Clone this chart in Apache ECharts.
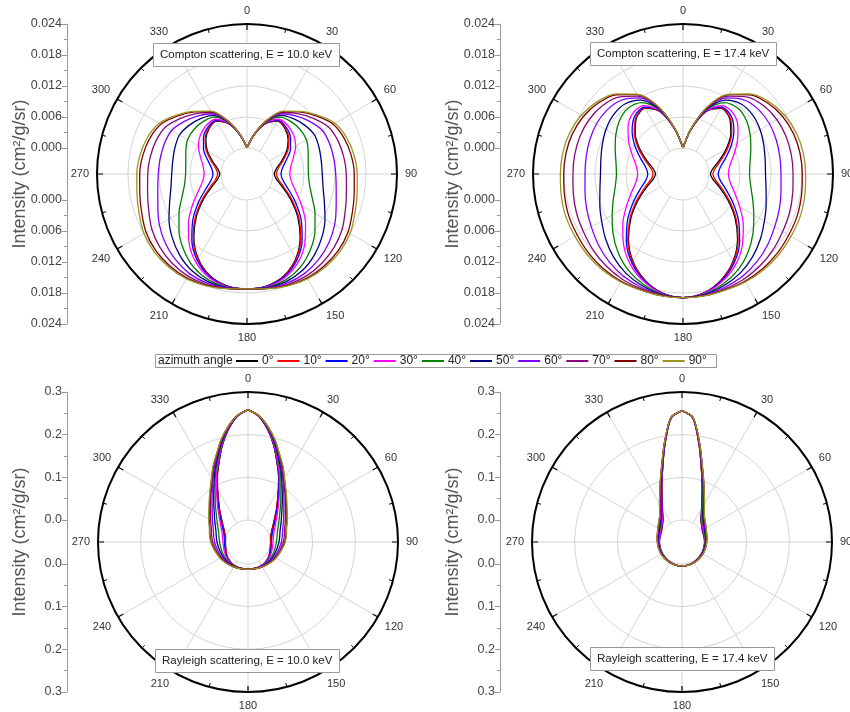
<!DOCTYPE html>
<html lang="en">
<head>
<meta charset="UTF-8">
<script src="https://cdn.jsdelivr.net/npm/echarts@6/dist/echarts.min.js"></script>
<title>Compton / Rayleigh angular distribution</title>
<style>html,body{margin:0;padding:0;background:#fff}</style>
</head>
<body>
<div id="main" style="width:850px;height:712px"></div>
<script>
// scattering angles of the stored values; the other half (180..360) is the mirror image
var thetaC = [0, 10, 20, 30, 40, 50, 60, 70, 80, 90, 100, 110, 120, 130, 140, 150, 160, 170, 180];
var thetaR = [0, 5, 10, 15, 20, 25, 30, 40, 50, 60, 70, 80, 90, 100, 110, 120, 130, 140, 150, 160, 170, 180];
var azimuths = ['0°', '10°', '20°', '30°', '40°', '50°', '60°', '70°', '80°', '90°'];
var colors = ['#000000', '#ff0000', '#0000ff', '#ff00ff', '#008000', '#000080', '#8000ff', '#8a0a7a', '#800000', '#9a9420'];

// intensity (cm2/g/sr), one row per azimuth angle 0..90
var compton10 = [
    [0, .00262, .00531, .00678, .00640, .00536, .00381, .00202, .00072, .00024, .00074, .00224, .00470, .00777, .01097, .01387, .01593, .01698, .0172],
    [0, .00262, .00533, .00684, .00652, .00555, .00409, .00236, .00110, .00065, .00115, .00262, .00504, .00804, .01116, .01398, .01598, .01699, .0172],
    [0, .00263, .00537, .00696, .00676, .00596, .00469, .00311, .00196, .00155, .00203, .00346, .00578, .00863, .01158, .01424, .01609, .01702, .0172],
    [0, .00263, .00544, .00720, .00723, .00674, .00584, .00455, .00359, .00326, .00373, .00505, .00720, .00976, .01239, .01472, .01632, .01708, .0172],
    [0, .00265, .00559, .00770, .00821, .00838, .00825, .00756, .00700, .00685, .00726, .00839, .01017, .01214, .01407, .01573, .01678, .01719, .0172],
    [0, .00267, .00571, .00807, .00895, .00961, .01006, .00982, .00956, .00954, .00992, .01090, .01240, .01392, .01533, .01649, .01713, .01728, .0172],
    [0, .00268, .00582, .00843, .00966, .01080, .01181, .01201, .01204, .01214, .01250, .01333, .01456, .01565, .01655, .01723, .01746, .01737, .0172],
    [0, .00269, .00591, .00871, .01022, .01173, .01318, .01372, .01398, .01418, .01451, .01523, .01625, .01700, .01751, .01780, .01773, .01743, .0172],
    [0, .00270, .00598, .00892, .01064, .01244, .01422, .01502, .01546, .01573, .01604, .01667, .01753, .01802, .01823, .01824, .01793, .01748, .0172],
    [0, .00270, .00600, .00900, .01080, .01270, .01460, .01550, .01600, .01630, .01660, .01720, .01800, .01840, .01850, .01840, .01800, .01750, .0172]
];
var compton17 = [
    [0, .00369, .00779, .00965, .00901, .00705, .00462, .00238, .00083, .00028, .00085, .00249, .00499, .00810, .01139, .01440, .01672, .01834, .0189],
    [0, .00369, .00781, .00973, .00917, .00729, .00496, .00279, .00128, .00075, .00130, .00291, .00535, .00838, .01158, .01452, .01678, .01835, .0189],
    [0, .00370, .00787, .00990, .00952, .00783, .00569, .00368, .00228, .00178, .00231, .00384, .00614, .00900, .01202, .01478, .01690, .01838, .0189],
    [0, .00371, .00798, .01024, .01018, .00886, .00708, .00537, .00417, .00374, .00424, .00561, .00764, .01019, .01285, .01528, .01713, .01844, .0189],
    [0, .00373, .00820, .01094, .01156, .01102, .01000, .00893, .00814, .00785, .00827, .00932, .01079, .01267, .01460, .01633, .01762, .01857, .0189],
    [0, .00375, .00837, .01147, .01259, .01263, .01219, .01159, .01111, .01094, .01129, .01210, .01316, .01452, .01591, .01712, .01798, .01866, .0189],
    [0, .00377, .00854, .01198, .01360, .01420, .01432, .01418, .01400, .01393, .01423, .01480, .01545, .01633, .01718, .01788, .01834, .01875, .0189],
    [0, .00379, .00867, .01238, .01438, .01543, .01597, .01620, .01626, .01627, .01652, .01691, .01724, .01774, .01817, .01848, .01861, .01883, .0189],
    [0, .00380, .00876, .01269, .01498, .01636, .01724, .01773, .01797, .01805, .01826, .01851, .01860, .01881, .01892, .01893, .01882, .01888, .0189],
    [0, .00380, .00880, .01280, .01520, .01670, .01770, .01830, .01860, .01870, .01890, .01910, .01910, .01920, .01920, .01910, .01890, .01890, .0189]
];
var rayleigh10 = [
    [.258, .2437, .2154, .1821, .1469, .1178, .0905, .0528, .0287, .0144, .0059, .0018, .0005, .0014, .0035, .0063, .0089, .0107, .0121, .0124, .0121, .012],
    [.258, .2437, .2156, .1825, .1474, .1185, .0912, .0537, .0297, .0154, .0069, .0028, .0014, .0021, .0041, .0067, .0092, .0109, .0122, .0124, .0121, .012],
    [.258, .2438, .2159, .1832, .1484, .1199, .0929, .0557, .0319, .0177, .0090, .0049, .0034, .0038, .0054, .0077, .0098, .0113, .0124, .0125, .0122, .012],
    [.258, .2440, .2166, .1845, .1505, .1226, .0960, .0596, .0361, .0220, .0132, .0090, .0072, .0069, .0079, .0096, .0111, .0121, .0128, .0127, .0122, .012],
    [.258, .2444, .2181, .1874, .1547, .1282, .1026, .0677, .0449, .0311, .0220, .0175, .0151, .0136, .0132, .0136, .0139, .0137, .0137, .0131, .0123, .012],
    [.258, .2447, .2192, .1896, .1579, .1324, .1076, .0737, .0514, .0379, .0285, .0239, .0211, .0185, .0171, .0165, .0159, .0149, .0143, .0133, .0123, .012],
    [.258, .2450, .2203, .1917, .1610, .1365, .1124, .0796, .0578, .0445, .0349, .0301, .0268, .0233, .0209, .0194, .0179, .0161, .0150, .0136, .0124, .012],
    [.258, .2453, .2211, .1933, .1635, .1397, .1161, .0842, .0628, .0496, .0398, .0350, .0313, .0271, .0239, .0217, .0194, .0170, .0155, .0138, .0125, .012],
    [.258, .2454, .2218, .1946, .1653, .1421, .1190, .0877, .0666, .0536, .0436, .0386, .0347, .0299, .0262, .0234, .0206, .0177, .0159, .0139, .0125, .012],
    [.258, .2455, .2220, .1950, .1660, .1430, .1200, .0890, .0680, .0550, .0450, .0400, .0360, .0310, .0270, .0240, .0210, .0180, .0160, .0140, .0125, .012]
];
var rayleigh17 = [
    [.256, .2402, .1795, .1242, .0867, .0593, .0407, .0178, .0084, .0037, .0013, .0004, .0001, .0003, .0007, .0013, .0020, .0028, .0035, .0041, .0045, .0046],
    [.256, .2402, .1796, .1245, .0870, .0597, .0410, .0181, .0087, .0039, .0015, .0006, .0003, .0004, .0008, .0014, .0021, .0028, .0035, .0041, .0045, .0046],
    [.256, .2403, .1799, .1249, .0876, .0604, .0418, .0188, .0094, .0045, .0020, .0010, .0006, .0007, .0011, .0016, .0023, .0029, .0036, .0041, .0045, .0046],
    [.256, .2405, .1805, .1259, .0888, .0617, .0432, .0201, .0106, .0056, .0029, .0018, .0013, .0013, .0016, .0020, .0025, .0032, .0037, .0042, .0045, .0046],
    [.256, .2409, .1818, .1278, .0913, .0645, .0462, .0228, .0132, .0079, .0049, .0035, .0027, .0025, .0026, .0028, .0032, .0036, .0039, .0043, .0046, .0046],
    [.256, .2412, .1827, .1293, .0932, .0667, .0484, .0249, .0151, .0096, .0063, .0048, .0038, .0035, .0034, .0034, .0036, .0039, .0041, .0044, .0046, .0046],
    [.256, .2415, .1836, .1307, .0951, .0687, .0506, .0268, .0170, .0113, .0077, .0060, .0048, .0044, .0041, .0040, .0041, .0042, .0043, .0045, .0046, .0046],
    [.256, .2418, .1843, .1318, .0965, .0703, .0522, .0284, .0185, .0126, .0089, .0070, .0057, .0051, .0047, .0045, .0044, .0044, .0045, .0045, .0046, .0046],
    [.256, .2419, .1848, .1327, .0976, .0715, .0535, .0296, .0196, .0136, .0097, .0077, .0063, .0056, .0051, .0049, .0047, .0046, .0046, .0046, .0046, .0046],
    [.256, .2420, .1850, .1330, .0980, .0720, .0540, .0300, .0200, .0140, .0100, .0080, .0065, .0058, .0053, .0050, .0048, .0047, .0046, .0046, .0046, .0046]
];

var plots = [
    {data: compton10, theta: thetaC, cx: 247, cy: 174, axisX: 67, r0: 26, max: 0.024, step: 0.006, digits: 3,
     label: 'Compton scattering, E = 10.0 keV', boxX: 153, boxY: 43},
    {data: compton17, theta: thetaC, cx: 683, cy: 174, axisX: 500, r0: 26, max: 0.024, step: 0.006, digits: 3,
     label: 'Compton scattering, E = 17.4 keV', boxX: 590, boxY: 42},
    {data: rayleigh10, theta: thetaR, cx: 248, cy: 542, axisX: 67, r0: 22, max: 0.3, step: 0.1, digits: 1,
     label: 'Rayleigh scattering, E = 10.0 keV', boxX: 155, boxY: 649},
    {data: rayleigh17, theta: thetaR, cx: 682, cy: 542, axisX: 500, r0: 22, max: 0.3, step: 0.1, digits: 1,
     label: 'Rayleigh scattering, E = 17.4 keV', boxX: 590, boxY: 647}
];
var R = 150;
var font = 'Liberation Sans, Arial, sans-serif';

function loop(half, th) {
    var pts = [];
    for (var i = 0; i < half.length; i++) pts.push([half[i], th[i]]);
    for (var j = half.length - 2; j >= 0; j--) pts.push([half[j], 360 - th[j]]);
    return pts;
}

var polar = [], angleAxis = [], radiusAxis = [], grid = [], xAxis = [], yAxis = [], series = [], title = [];
var n = plots.length;

plots.forEach(function (p, i) {
    // data polar: ring between the inner hole and the frame, grey grid only
    polar.push({center: [p.cx, p.cy], radius: [p.r0, R]});
    angleAxis.push({
        polarIndex: i, type: 'value', min: 0, max: 360, interval: 30,
        startAngle: 90, clockwise: true,
        axisLine: {show: false}, axisTick: {show: false}, axisLabel: {show: false},
        splitLine: {lineStyle: {color: '#d4d4d4', width: 1}}
    });
    radiusAxis.push({
        polarIndex: i, type: 'value', min: 0, max: p.max, interval: p.step,
        axisLine: {show: false}, axisTick: {show: false}, axisLabel: {show: false},
        splitLine: {show: true, lineStyle: {color: '#d4d4d4', width: 1}}
    });
});

plots.forEach(function (p, i) {
    // frame polar: black outer circle with angle ticks and labels
    polar.push({center: [p.cx, p.cy], radius: R});
    angleAxis.push({
        polarIndex: n + i, type: 'value', min: 0, max: 360, interval: 30,
        startAngle: 90, clockwise: true, z: 5,
        axisLine: {lineStyle: {color: '#000', width: 2}},
        axisTick: {inside: true, length: 6, lineStyle: {color: '#000', width: 1.2}},
        minorTick: {show: true, splitNumber: 2, length: 4, lineStyle: {color: '#000'}},
        axisLabel: {fontSize: 11, color: '#333', fontFamily: font, margin: 8,
            formatter: function (v) { return v === 360 ? '' : String(v); }},
        splitLine: {show: false}
    });
    radiusAxis.push({
        polarIndex: n + i, type: 'value', min: 0, max: 1,
        axisLine: {show: false}, axisTick: {show: false}, axisLabel: {show: false},
        splitLine: {show: false}
    });
});

plots.forEach(function (p, i) {
    // separate straight intensity scale on the left: upper half, gap, lower half
    var parts = [
        {top: p.cy - R, h: R - p.r0, inverse: false, ticks: true},
        {top: p.cy - p.r0, h: 2 * p.r0, inverse: false, ticks: false},
        {top: p.cy + p.r0, h: R - p.r0, inverse: true, ticks: true}
    ];
    parts.forEach(function (s) {
        var gi = grid.length;
        grid.push({left: p.axisX, top: s.top, width: 10, height: s.h});
        xAxis.push({gridIndex: gi, type: 'value', show: false});
        var ax = {
            gridIndex: gi, type: 'value', inverse: s.inverse,
            axisLine: {show: true, lineStyle: {color: '#999', width: 1}},
            splitLine: {show: false}
        };
        if (s.ticks) {
            ax.min = 0; ax.max = p.max; ax.interval = p.step;
            ax.axisTick = {show: true, length: 5, lineStyle: {color: '#999'}};
            ax.minorTick = {show: true, splitNumber: 2, length: 3, lineStyle: {color: '#999'}};
            ax.axisLabel = {fontSize: 12.5, color: '#444', fontFamily: font, margin: 5,
                formatter: function (v) { return v.toFixed(p.digits); }};
        } else {
            ax.min = 0; ax.max = 1;
            ax.axisTick = {show: false};
            ax.axisLabel = {show: false};
            ax.name = 'Intensity (cm²/g/sr)';
            ax.nameLocation = 'middle';
            ax.nameRotate = 90;
            ax.nameGap = 38;
            ax.nameTextStyle = {fontSize: 18, color: '#555', fontFamily: font};
        }
        yAxis.push(ax);
    });

    p.data.forEach(function (row, k) {
        series.push({
            type: 'line', coordinateSystem: 'polar', polarIndex: i,
            name: azimuths[k], data: loop(row, p.theta),
            symbol: 'none', smooth: 0.3, silent: true,
            lineStyle: {width: 1.3, color: colors[k]},
            itemStyle: {color: colors[k]}
        });
    });

    title.push({
        text: p.label, left: p.boxX, top: p.boxY,
        padding: [6, 7], borderColor: '#999', borderWidth: 1, backgroundColor: '#fff',
        textStyle: {fontSize: 11.5, fontWeight: 'normal', color: '#222', fontFamily: font}
    });
});

// frame of the legend with its leading caption
title.push({
    text: 'azimuth angle', left: 155, top: 354,
    padding: [1, 484, 1, 3], borderColor: '#999', borderWidth: 1,
    textStyle: {fontSize: 12, lineHeight: 12, fontWeight: 'normal', color: '#222', fontFamily: font}
});

var chart = echarts.init(document.getElementById('main'));
chart.setOption({
    animation: false,
    backgroundColor: '#fff',
    title: title,
    legend: {
        data: azimuths, left: 236, top: 355, padding: 0,
        icon: 'rect', itemWidth: 22, itemHeight: 2, itemGap: 4,
        textStyle: {fontSize: 12, color: '#222', fontFamily: font, padding: [0, 0, 0, -1]}
    },
    polar: polar,
    angleAxis: angleAxis,
    radiusAxis: radiusAxis,
    grid: grid,
    xAxis: xAxis,
    yAxis: yAxis,
    series: series
});
</script>
</body>
</html>
